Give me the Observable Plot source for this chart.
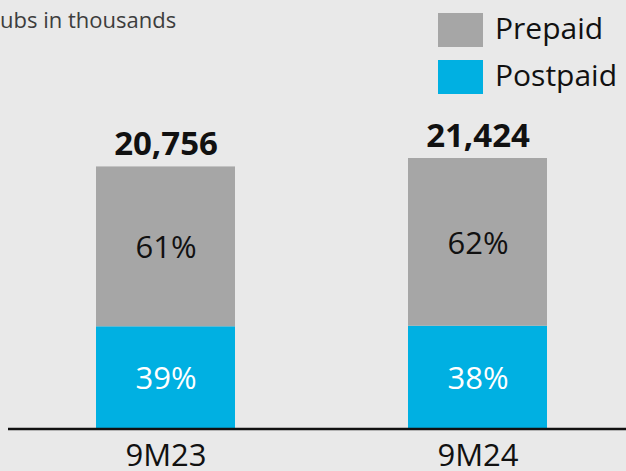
<!DOCTYPE html>
<html>
<head>
<meta charset="utf-8">
<script src="https://cdn.jsdelivr.net/npm/d3@7"></script>
<script src="https://cdn.jsdelivr.net/npm/@observablehq/plot@0.6"></script>
<style>
  html, body { margin: 0; padding: 0; background: #e9e9e9; overflow: hidden; }
  #wrap { position: relative; width: 626px; height: 471px; font-family: "Open Sans", sans-serif; }
  #wrap svg { position: absolute; left: 0; top: 0; }
  .sub { position: absolute; left: -12px; top: 8px; font-size: 22px; line-height: 22px; color: #3d3d3d; white-space: nowrap; }
  .leg { position: absolute; left: 438px; display: flex; align-items: center; height: 34px; }
  .sw { width: 45px; height: 34px; margin-right: 12px; }
  .lt { font-size: 30px; line-height: 34px; color: #111; position: relative; top: -2px; white-space: nowrap; }
</style>
</head>
<body>
<div id="wrap"></div>
<script>
// ---- data ----
const categories = ["9M23", "9M24"];
const totals = [20756, 21424];
const series = ["Postpaid", "Prepaid"];
const postpaidPct = [39, 38];
const prepaidPct = [61, 62];
const colors = ["#00b0e2", "#a6a6a6"];
const subtitle = "Subs in thousands";

// ---- table built from arrays ----
const rows = [];
categories.forEach((c, i) => {
  rows.push({cat: c, series: series[0], pct: postpaidPct[i], value: totals[i] * postpaidPct[i] / 100});
  rows.push({cat: c, series: series[1], pct: prepaidPct[i], value: totals[i] * prepaidPct[i] / 100});
});
const totalRows = categories.map((c, i) => ({cat: c, total: totals[i]}));

const chart = Plot.plot({
  width: 626,
  height: 471,
  marginLeft: 8,
  marginRight: 0,
  marginTop: 87.6,
  marginBottom: 42.5,
  style: {background: "transparent", fontFamily: "Open Sans, sans-serif", overflow: "visible"},
  x: {domain: categories, paddingInner: 0.554, paddingOuter: 0.265, align: 0.528, label: null},
  y: {domain: [0, 27000], axis: null},
  color: {domain: series, range: colors},
  marks: [
    Plot.barY(rows, Plot.stackY({x: "cat", y: "value", fill: "series", order: series})),
    Plot.text(rows, Plot.stackY({
      x: "cat", y: "value", order: series,
      text: d => d.pct + "%",
      fill: d => d.series === "Postpaid" ? "#ffffff" : "#111111",
      fontSize: 31, dy: 1.5
    })),
    Plot.text(totalRows, {
      x: "cat", y: "total",
      text: d => d3.format(",")(d.total),
      lineAnchor: "bottom", dy: -12,
      fontSize: 33, fontWeight: "bold", fill: "#111"
    }),
    Plot.ruleY([0], {stroke: "#111", strokeWidth: 2.5}),
    Plot.axisX({tickSize: 0, tickPadding: 15, fontSize: 31, fill: "#111", label: null})
  ]
});

const wrap = document.getElementById("wrap");
wrap.appendChild(chart);

const sub = document.createElement("div");
sub.className = "sub";
sub.textContent = subtitle;
wrap.appendChild(sub);

// legend: Prepaid on top, Postpaid below
[[series[1], colors[1], 13], [series[0], colors[0], 60]].forEach(([name, col, top]) => {
  const row = document.createElement("div");
  row.className = "leg";
  row.style.top = top + "px";
  const sw = document.createElement("div");
  sw.className = "sw";
  sw.style.background = col;
  const t = document.createElement("span");
  t.className = "lt";
  t.textContent = name;
  row.appendChild(sw);
  row.appendChild(t);
  wrap.appendChild(row);
});
</script>
</body>
</html>
